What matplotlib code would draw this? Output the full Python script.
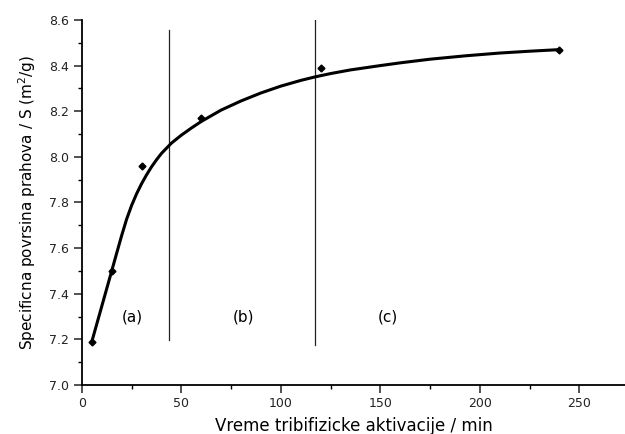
import matplotlib
matplotlib.use("Agg")
import matplotlib.pyplot as plt
from matplotlib.ticker import MultipleLocator, FormatStrFormatter

plt.rcParams['font.family'] = ['DejaVu Sans']

# measured specific surface vs. activation time
t_meas = [5, 15, 30, 60, 120, 240]
s_meas = [7.19, 7.50, 7.96, 8.17, 8.39, 8.47]

# fitted curve, sampled
t_fit = [5, 10, 15, 17.5, 20, 22.5, 25, 27.5, 30, 32.5, 35, 37.5, 40, 45,
         50, 55, 60, 70, 80, 90, 100, 110, 117, 125, 135, 150, 160, 175,
         193, 210, 225, 240]
s_fit = [7.19, 7.345, 7.50, 7.578, 7.655, 7.727, 7.787, 7.838, 7.882,
         7.921, 7.956, 7.987, 8.015, 8.06, 8.095, 8.126, 8.155, 8.205,
         8.245, 8.28, 8.31, 8.335, 8.35, 8.365, 8.381, 8.40, 8.412, 8.428,
         8.443, 8.455, 8.463, 8.47]

# region boundaries: (x, y_bottom, y_top)
bound_x = [44, 117]
bound_lo = [7.195, 7.175]
bound_hi = [8.555, 8.60]

region_labels = ['(a)', '(b)', '(c)']
region_x = [25.5, 81, 154]
region_y = [7.30, 7.30, 7.30]

fig = plt.figure(figsize=(6.25, 4.34), dpi=100)
ax = fig.add_axes([0.131, 0.113, 0.869, 0.841])

ax.plot(t_fit, s_fit, color='black', lw=2.2, solid_capstyle='round',
        solid_joinstyle='round', zorder=3)
ax.plot(t_meas, s_meas, linestyle='none', marker='D', ms=3.5,
        color='black', zorder=4)

for x, lo, hi in zip(bound_x, bound_lo, bound_hi):
    ax.plot([x, x], [lo, hi], color='#222222', lw=0.9, zorder=2)

for lab, x, y in zip(region_labels, region_x, region_y):
    ax.text(x, y, lab, ha='center', va='center', fontsize=11)

ax.set_xlim(0, 273)
ax.set_ylim(7.0, 8.6)
ax.xaxis.set_major_locator(MultipleLocator(50))
ax.xaxis.set_minor_locator(MultipleLocator(25))
ax.yaxis.set_major_locator(MultipleLocator(0.2))
ax.yaxis.set_minor_locator(MultipleLocator(0.1))
ax.yaxis.set_major_formatter(FormatStrFormatter('%.1f'))

ax.spines['top'].set_visible(False)
ax.spines['right'].set_visible(False)
for s in ('left', 'bottom'):
    ax.spines[s].set_linewidth(1.3)
ax.tick_params(which='major', direction='out', length=6, width=1.1,
               labelsize=9, pad=3, colors='#222222')
ax.tick_params(which='minor', direction='out', length=3, width=1.0)

ax.set_xlabel('Vreme tribifizicke aktivacije / min', fontsize=12, labelpad=5)
ax.set_ylabel('Specificna povrsina prahova / S (m$^2$/g)', fontsize=11,
              labelpad=8)

fig.savefig('out.png', dpi=100)
